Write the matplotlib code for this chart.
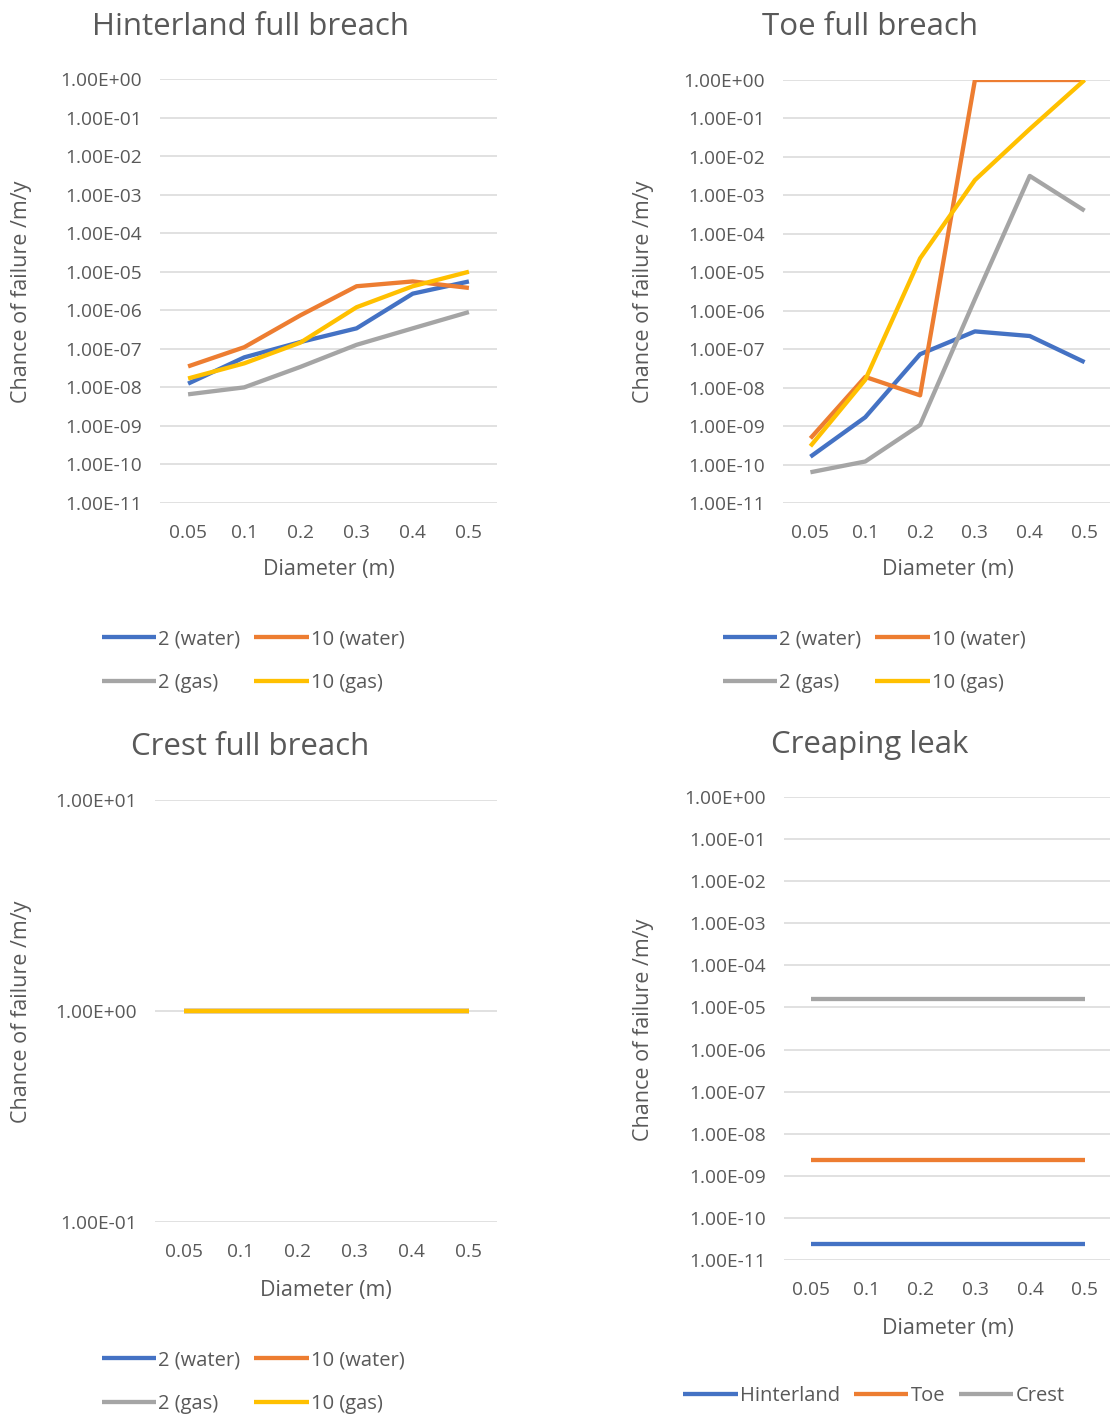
import matplotlib.pyplot as plt
import numpy as np
from matplotlib.ticker import FixedLocator, FuncFormatter, NullLocator

plt.rcParams['font.family'] = ['Open Sans', 'DejaVu Sans']

W, H = 1110, 1414

diameters = ["0.05", "0.1", "0.2", "0.3", "0.4", "0.5"]

# Hinterland full breach
hint_2_water = [1.25e-8, 6e-8, 1.5e-7, 3.4e-7, 2.7e-6, 5.6e-6]
hint_10_water = [3.5e-8, 1.1e-7, 7.4e-7, 4.2e-6, 5.6e-6, 3.8e-6]
hint_2_gas = [6.6e-9, 1e-8, 3.4e-8, 1.27e-7, 3.4e-7, 9e-7]
hint_10_gas = [1.7e-8, 4.2e-8, 1.45e-7, 1.2e-6, 4.2e-6, 1e-5]

# Toe full breach
toe_2_water = [1.6e-10, 1.7e-9, 7.4e-8, 2.9e-7, 2.2e-7, 4.6e-8]
toe_10_water = [4.8e-10, 1.9e-8, 6.3e-9, 1.0, 1.0, 1.0]
toe_2_gas = [6.3e-11, 1.2e-10, 1.07e-9, 2e-6, 3.2e-3, 4e-4]
toe_10_gas = [3e-10, 1.6e-8, 2.3e-5, 2.5e-3, 5.3e-2, 1.0]

# Crest full breach
crest_2_water = [1.0] * 6
crest_10_water = [1.0] * 6
crest_2_gas = [1.0] * 6
crest_10_gas = [1.0] * 6

# Creaping leak
leak_hinterland = [2.4e-11] * 6
leak_toe = [2.4e-9] * 6
leak_crest = [1.6e-5] * 6

series_names = ["2 (water)", "10 (water)", "2 (gas)", "10 (gas)"]
colors = ["#4472C4", "#ED7D31", "#A5A5A5", "#FFC000"]
txt = "#595959"

fig = plt.figure(figsize=(W / 100, H / 100), dpi=100)


def make_ax(left, top, right, bottom, ymin, ymax):
    ax = fig.add_axes([left / W, 1 - bottom / H, (right - left) / W, (bottom - top) / H])
    ax.set_yscale('log')
    ax.set_ylim(ymin, ymax)
    ax.set_xlim(-0.5, 5.5)
    exps = np.arange(int(np.log10(ymin)), int(np.log10(ymax)) + 1)
    ax.yaxis.set_major_locator(FixedLocator(10.0 ** exps))
    ax.yaxis.set_minor_locator(NullLocator())
    ax.yaxis.set_major_formatter(FuncFormatter(lambda v, p: f"{v:.2E}"))
    ax.set_xticks(range(len(diameters)))
    ax.set_xticklabels(diameters)
    ax.grid(axis='y', color='#d9d9d9', linewidth=1.1)
    ax.set_axisbelow(True)
    for s in ax.spines.values():
        s.set_visible(False)
    ax.tick_params(axis='both', length=0, labelsize=13.8, colors=txt)
    ax.tick_params(axis='y', pad=13)
    ax.tick_params(axis='x', pad=15)
    return ax


def draw(ax, data, labels, title, tx, ty, ylx, yly, lpad=12):
    x = np.arange(len(diameters))
    handles = []
    for vals, lab, c in zip(data, labels, colors):
        h, = ax.plot(x, vals, color=c, lw=3.1, label=lab, solid_capstyle='butt')
        handles.append(h)
    ax.set_xlabel("Diameter (m)", fontsize=15.5, color=txt, labelpad=lpad)
    fig.text(tx / W, 1 - ty / H, title, fontsize=22.5, color=txt, ha='center', va='center')
    fig.text(ylx / W, 1 - yly / H, "Chance of failure /m/y", fontsize=15.5, color=txt,
             rotation=90, ha='center', va='center')
    return handles


def legend4(handles, cx, cy):
    order = [0, 2, 1, 3]
    fig.legend([handles[i] for i in order], [series_names[i] for i in order],
               loc='center', bbox_to_anchor=(cx / W, 1 - cy / H), ncol=2, frameon=False,
               fontsize=14.5, labelcolor=txt, handlelength=2.7, handletextpad=0.1,
               columnspacing=0.7, labelspacing=1.15)


ax1 = make_ax(160, 79, 497, 503, 1e-11, 1)
h1 = draw(ax1, [hint_2_water, hint_10_water, hint_2_gas, hint_10_gas], series_names,
          "Hinterland full breach", 250, 27, 22, 292)
legend4(h1, 253, 661)

ax2 = make_ax(783, 80, 1112, 503, 1e-11, 1)
h2 = draw(ax2, [toe_2_water, toe_10_water, toe_2_gas, toe_10_gas], series_names,
          "Toe full breach", 870, 27, 644, 292)
legend4(h2, 874, 661)

ax3 = make_ax(155, 800, 497, 1222, 1e-1, 10)
h3 = draw(ax3, [crest_2_water, crest_10_water, crest_2_gas, crest_10_gas], series_names,
          "Crest full breach", 250, 747, 22, 1012, lpad=14)
legend4(h3, 253, 1382)

ax4 = make_ax(784, 797, 1112, 1260, 1e-11, 1)
h4 = draw(ax4, [leak_hinterland, leak_toe, leak_crest], ["Hinterland", "Toe", "Crest"],
          "Creaping leak", 870, 745, 644, 1030, lpad=14)
fig.legend(h4, ["Hinterland", "Toe", "Crest"], loc='center',
           bbox_to_anchor=(874 / W, 1 - 1396 / H), ncol=3, frameon=False,
           fontsize=14.5, labelcolor=txt, handlelength=2.7, handletextpad=0.1,
           columnspacing=0.7)

fig.savefig("out.png", dpi=100)
